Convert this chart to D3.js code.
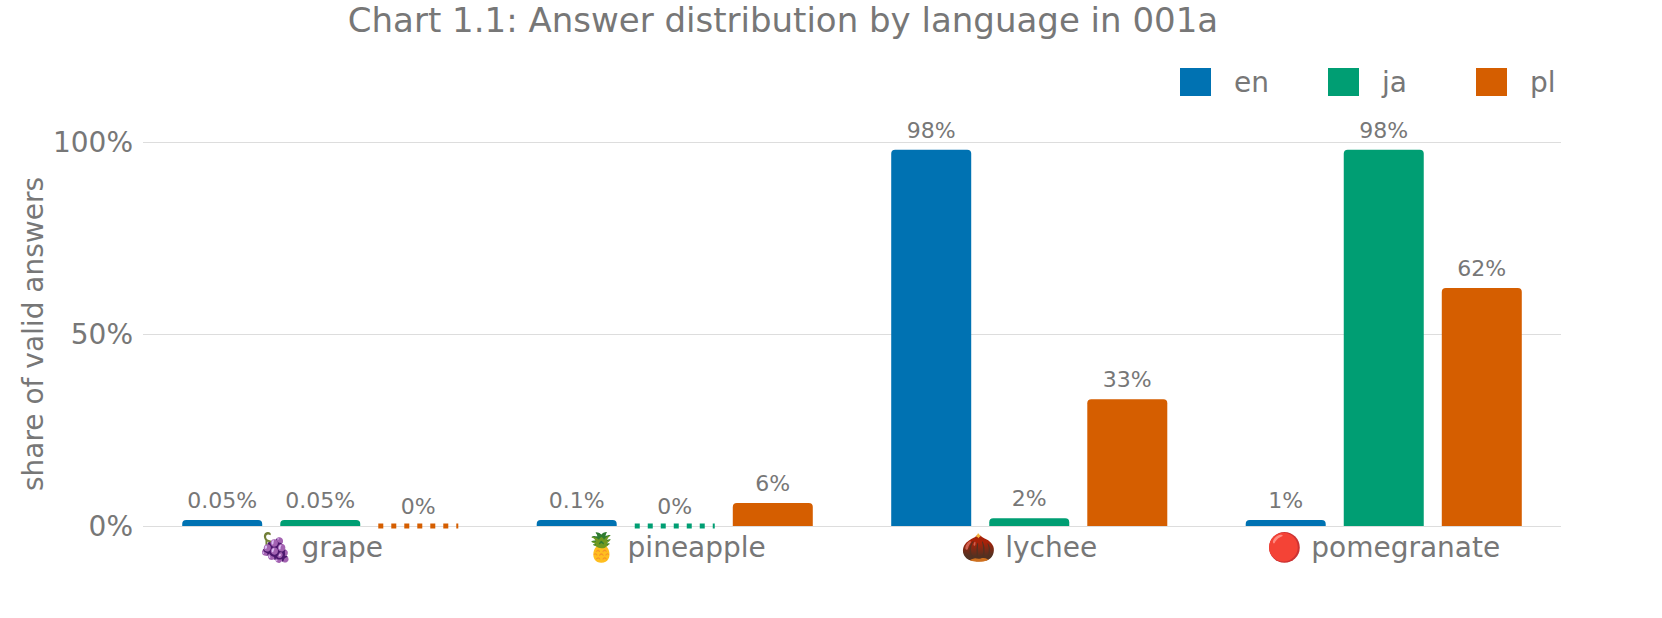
<!DOCTYPE html>
<html><head><meta charset="utf-8">
<script src="https://cdn.jsdelivr.net/npm/d3@7"></script>
<style>body{margin:0;background:#fff}text{font-family:"DejaVu Sans",sans-serif;fill:#777}</style>
</head><body><svg id="c" width="1662" height="618"></svg>
<script>
const categories = ["🍇 grape","🍍 pineapple","🌰 lychee","🔴 pomegranate"];
const series = ["en","ja","pl"];
const colors = ["#0072b2","#009e73","#d55e00"];
const en = [0.05,0.1,98,1];
const ja = [0.05,0,2,98];
const pl = [0,6,33,62];
const labels = {en:["0.05%","0.1%","98%","1%"], ja:["0.05%","0%","2%","98%"], pl:["0%","6%","33%","62%"]};
const yTicks = [0,50,100];
const values = {en,ja,pl};

const svg = d3.select("#c");
const L=143,R=1561,T=142,B=526;
const x = d3.scaleBand().domain(categories).range([L,R]);
const xs = d3.scaleBand().domain(series).range([0,x.bandwidth()]).paddingInner(0.184).paddingOuter(0.40);
const y = d3.scaleLinear().domain([0,100]).range([B,T]);

svg.append("text").attr("x",783).attr("y",32).attr("text-anchor","middle").attr("font-size",34).text("Chart 1.1: Answer distribution by language in 001a");

const ya = svg.append("g").attr("transform",`translate(${L},0)`)
 .call(d3.axisLeft(y).tickValues(yTicks).tickSize(-(R-L)).tickFormat(d=>d+"%"));
ya.select(".domain").remove();
ya.selectAll("line").attr("stroke","#ddd");
ya.selectAll("text").attr("font-size",28).attr("x",-10).attr("dy","0.35em").style("fill","#777");

svg.append("text").attr("transform","translate(43,334) rotate(-90)").attr("text-anchor","middle").attr("font-size",28).text("share of valid answers");

const xa = svg.append("g").attr("transform",`translate(0,${B})`).call(d3.axisBottom(x).tickSize(0));
xa.select(".domain").remove();
xa.selectAll("text").attr("font-size",28).attr("dy","0.75em").attr("y",10).style("fill","#777");

series.forEach((s,si)=>{
  const g = svg.append("g");
  categories.forEach((c,ci)=>{
    const v = values[s][ci];
    const x0 = x(c)+xs(s), w = xs.bandwidth();
    if(v===0){
      g.append("line").attr("x1",x0).attr("x2",x0+w).attr("y1",B).attr("y2",B)
        .attr("stroke",colors[si]).attr("stroke-width",5).attr("stroke-dasharray","5 8");
    } else {
      const top = Math.min(y(v), B-6);
      const r=4;
      g.append("path").attr("fill",colors[si])
        .attr("d",`M${x0},${B}V${top+r}Q${x0},${top} ${x0+r},${top}H${x0+w-r}Q${x0+w},${top} ${x0+w},${top+r}V${B}Z`);
    }
    const ty = (v===0? B : Math.min(y(v),B-6)) - 12;
    svg.append("text").attr("x",x0+w/2).attr("y",ty).attr("text-anchor","middle").attr("font-size",22).text(labels[s][ci]);
  });
});

const leg = svg.append("g");
series.forEach((s,i)=>{
  const lx = 1180 + i*148;
  leg.append("rect").attr("x",lx).attr("y",68).attr("width",31).attr("height",28).attr("fill",colors[i]);
  leg.append("text").attr("x",lx+54).attr("y",92).attr("font-size",28).text(s);
});
</script></body></html>
